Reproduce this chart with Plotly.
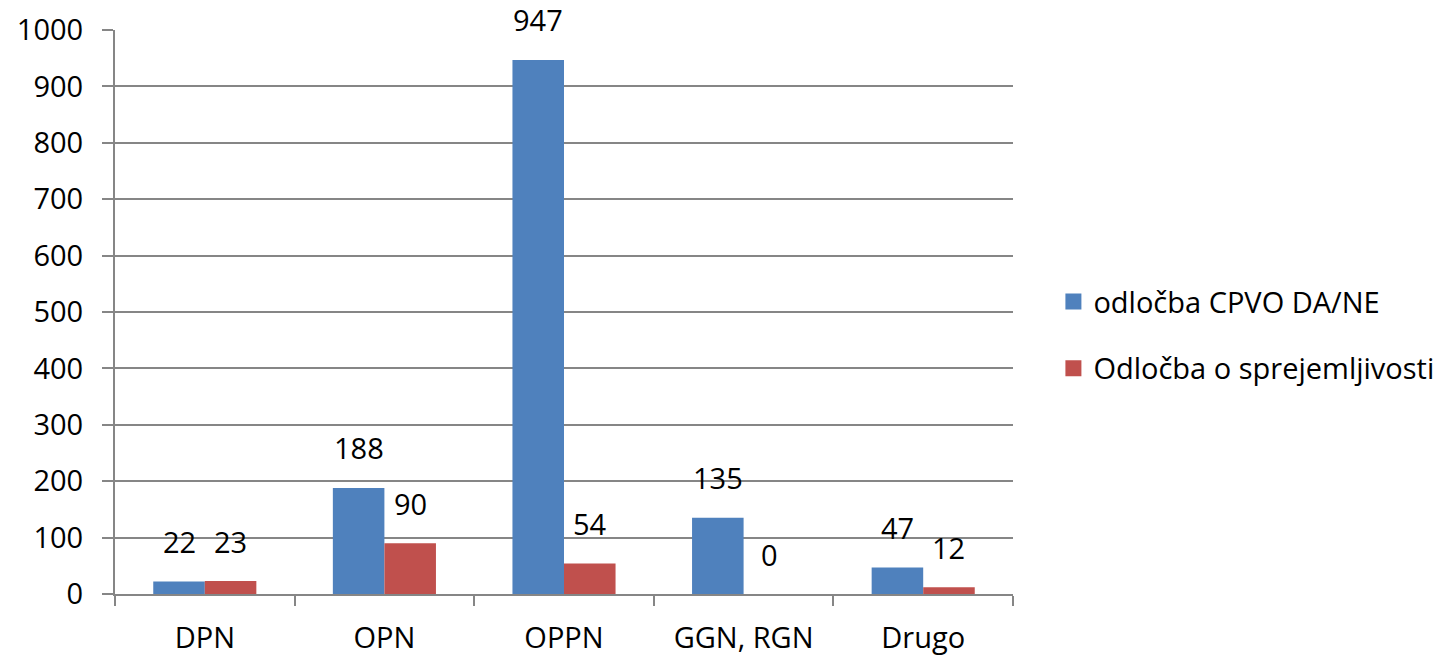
import plotly.graph_objects as go

categories = ["DPN", "OPN", "OPPN", "GGN, RGN", "Drugo"]
series_names = ["odločba CPVO DA/NE", "Odločba o sprejemljivosti"]
cpvo_values = [22, 188, 947, 135, 47]
sprejem_values = [23, 90, 54, 0, 12]
y_ticks = [0, 100, 200, 300, 400, 500, 600, 700, 800, 900, 1000]

colors = ["#4F81BD", "#C0504D"]
FONT = "Open Sans"
FS = 29

fig = go.Figure()
for name, vals, col in zip(series_names, [cpvo_values, sprejem_values], colors):
    fig.add_trace(go.Bar(
        name=name, x=categories, y=vals, marker=dict(color=col, line=dict(width=0)),
        cliponaxis=False, showlegend=False,
    ))
# legend entries with larger square swatches
for name, col in zip(series_names, colors):
    fig.add_trace(go.Scatter(
        name=name, x=[None], y=[None], mode="markers", legendgroup=name,
        marker=dict(symbol="square", size=16, color=col), showlegend=True,
    ))

half = (1 - 0.426) / 4
annotations = []
for si, vals in enumerate([cpvo_values, sprejem_values]):
    off = -half if si == 0 else half
    for i, v in enumerate(vals):
        annotations.append(dict(
            x=i + off, y=v, xref="x", yref="y", text=str(v), showarrow=False,
            yanchor="middle", yshift=40, font=dict(family=FONT, size=FS, color="black"),
        ))

fig.update_layout(
    width=1456, height=655,
    margin=dict(l=115, r=443, t=30, b=61),
    paper_bgcolor="white", plot_bgcolor="white",
    barmode="group", bargap=0.426, bargroupgap=0,
    font=dict(family=FONT, size=FS, color="black"),
    showlegend=True,
    legend=dict(x=1.045, y=0.459, xanchor="left", yanchor="middle",
                font=dict(family=FONT, size=FS, color="black"),
                tracegroupgap=26, itemwidth=30, itemsizing="trace"),
    annotations=annotations,
    xaxis=dict(
        type="category", showline=True, linecolor="#868686", linewidth=2,
        ticks="outside", tickson="boundaries", ticklen=10, tickcolor="#868686", tickwidth=2,
        showgrid=False, tickfont=dict(family=FONT, size=FS), ticklabelstandoff=17,
        automargin=False,
    ),
    yaxis=dict(
        range=[0, 1000], tickvals=y_ticks, showgrid=True, gridcolor="#868686", gridwidth=2,
        showline=True, linecolor="#868686", linewidth=2,
        ticks="outside", ticklen=11, tickcolor="#868686", tickwidth=2,
        zeroline=False, tickfont=dict(family=FONT, size=FS), ticklabelstandoff=13,
        automargin=False,
    ),
)

fig.write_html(
    "out.html",
    config={"displayModeBar": False},
    post_script="document.body.style.margin='0';document.body.style.overflow='hidden';",
)
